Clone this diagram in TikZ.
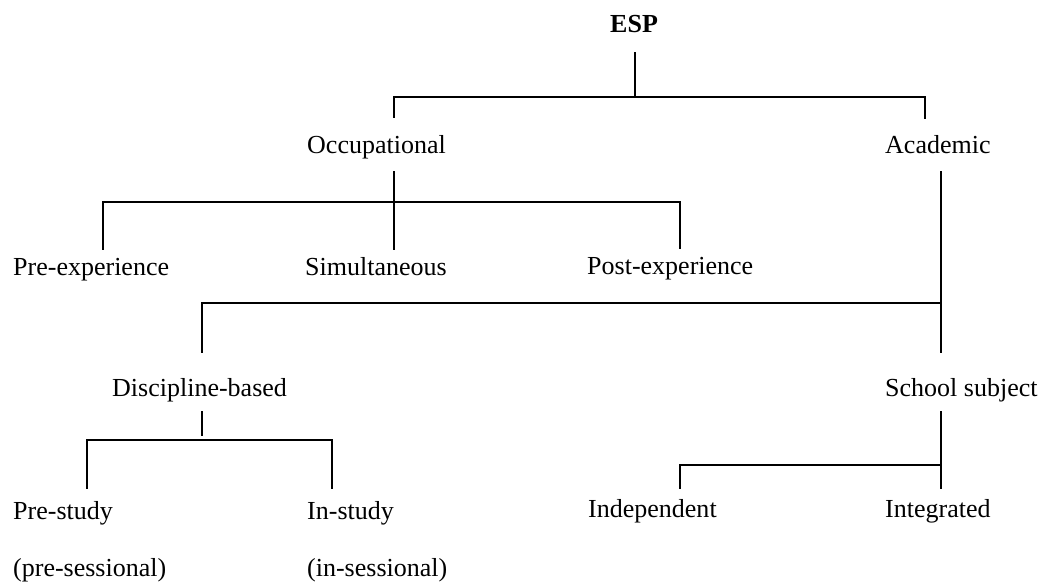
\documentclass[tikz,border=0pt]{standalone}
\usepackage{fontspec}
\setmainfont{Liberation Serif}
\begin{document}
\begin{tikzpicture}[x=1pt,y=-1pt,
  lbl/.style={anchor=base west,inner sep=0pt,font=\fontsize{26}{30}\selectfont},
  conn/.style={line width=2pt,line cap=rect,line join=miter}]
\useasboundingbox (0,0) rectangle (1043,584);
% labels
\node[lbl,font=\fontsize{26}{30}\selectfont\bfseries] (esp) at (610,32) {ESP};
\node[lbl] (occ) at (307,153) {Occupational};
\node[lbl] (acad) at (885,153) {Academic};
\node[lbl] (preexp) at (13,275) {Pre-experience};
\node[lbl] (simul) at (305,275) {Simultaneous};
\node[lbl] (postexp) at (587,274) {Post-experience};
\node[lbl] (disc) at (112,396) {Discipline-based};
\node[lbl] (school) at (885,396) {School subject};
\node[lbl] (prestudy) at (13,519) {Pre-study};
\node[lbl] (instudy) at (307,519) {In-study};
\node[lbl] (presess) at (13,576) {(pre-sessional)};
\node[lbl] (insess) at (307,576) {(in-sessional)};
\node[lbl] (indep) at (588,517) {Independent};
\node[lbl] (integ) at (885,517) {Integrated};
% connector end points
\coordinate (espB) at (635,53);
\coordinate (j1) at (635,97);
\coordinate (occT) at (394,117);
\coordinate (acadT) at (925,118);
\coordinate (occB) at (394,172);
\coordinate (j2) at (394,202);
\coordinate (preexpT) at (103,249);
\coordinate (simulT) at (394,249);
\coordinate (postexpT) at (680,248);
\coordinate (acadB) at (941,172);
\coordinate (j3) at (941,303);
\coordinate (discT) at (202,352);
\coordinate (schoolT) at (941,352);
\coordinate (discB) at (202,412);
\coordinate (discE) at (202,435);
\coordinate (j4) at (202,440);
\coordinate (prestudyT) at (87,488);
\coordinate (instudyT) at (332,488);
\coordinate (schoolB) at (941,412);
\coordinate (j5) at (941,465);
\coordinate (indepT) at (680,488);
\coordinate (integT) at (941,488);
% connectors
\draw[conn] (espB) -- (j1);
\draw[conn] (occT) |- (j1) -| (acadT);
\draw[conn] (occB) -- (j2);
\draw[conn] (preexpT) |- (j2) -| (postexpT);
\draw[conn] (j2) -- (simulT);
\draw[conn] (acadB) -- (schoolT);
\draw[conn] (discT) |- (j3);
\draw[conn] (discB) -- (discE);
\draw[conn] (prestudyT) |- (j4) -| (instudyT);
\draw[conn] (schoolB) -- (j5);
\draw[conn] (indepT) |- (j5) -- (integT);
\end{tikzpicture}
\end{document}
